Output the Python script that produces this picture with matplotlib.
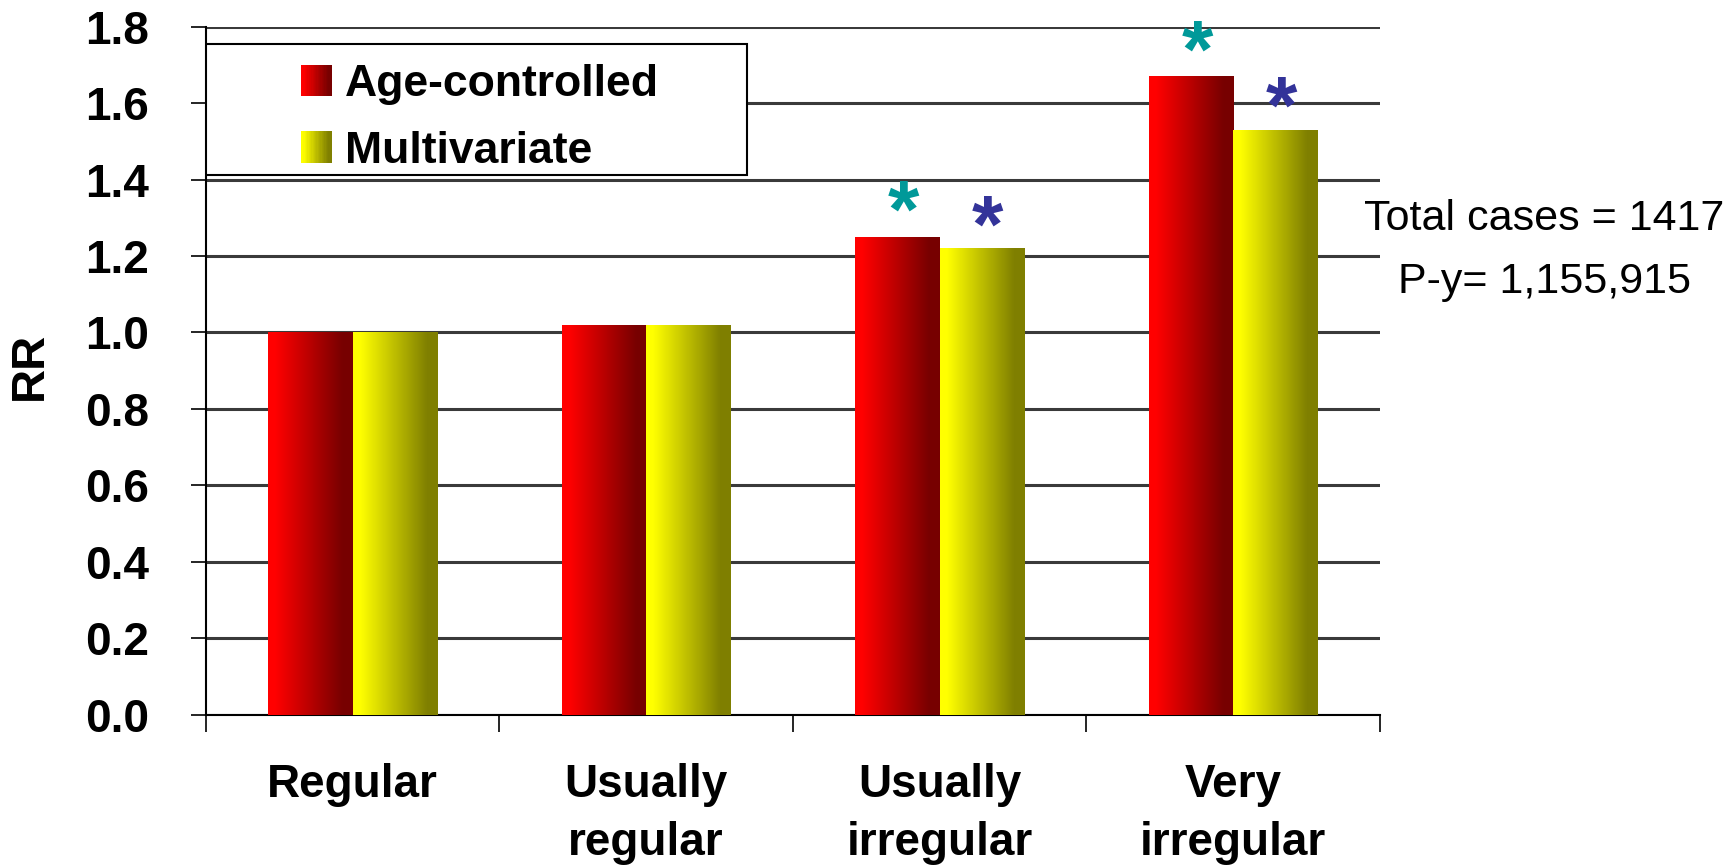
import numpy as np
import matplotlib
matplotlib.use("Agg")
import matplotlib.pyplot as plt
from matplotlib import font_manager
from matplotlib.patches import Rectangle, Patch
from matplotlib.legend_handler import HandlerBase

categories = ["Regular", "Usually\nregular", "Usually\nirregular", "Very\nirregular"]
age_controlled = [1.00, 1.02, 1.25, 1.67]
multivariate = [1.00, 1.02, 1.22, 1.53]
sig_age = [False, False, True, True]
sig_multi = [False, False, True, True]
yticks = [0.0, 0.2, 0.4, 0.6, 0.8, 1.0, 1.2, 1.4, 1.6, 1.8]
note_lines = ["Total cases = 1417", "P-y= 1,155,915"]

RED0, RED1 = (1.0, 0.0, 0.0), (0.47, 0.0, 0.0)
YEL0, YEL1 = (1.0, 1.0, 0.0), (0.50, 0.50, 0.0)

names = {f.name for f in font_manager.fontManager.ttflist}
narrow = "Liberation Sans Narrow" if "Liberation Sans Narrow" in names else "Liberation Sans"
plt.rcParams["font.family"] = ["Liberation Sans", "DejaVu Sans"]


def grad(c0, c1, t):
    f = np.clip((t - 0.08) / 0.8, 0, 1)
    return tuple(a * (1 - f) + b * f for a, b in zip(c0, c1))


def grad_image(c0, c1, n=64):
    t = np.linspace(0, 1, n)
    return np.array([[grad(c0, c1, v) for v in t]])


class GradientHandler(HandlerBase):
    def __init__(self, c0, c1):
        super().__init__()
        self.c0, self.c1 = c0, c1

    def create_artists(self, legend, orig_handle, xdescent, ydescent,
                       width, height, fontsize, trans):
        n = 24
        arts = []
        for i in range(n):
            col = grad(self.c0, self.c1, (i + 0.5) / n)
            arts.append(Rectangle((-xdescent + width * i / n, -ydescent),
                                  width / n * 1.1, height, facecolor=col,
                                  edgecolor="none", transform=trans))
        return arts


fig = plt.figure(figsize=(17.35, 8.67), dpi=100)
ax = fig.add_axes([0.1186, 0.1755, 0.6768, 0.7938])

x = np.arange(len(categories))
w = 0.287
bars_a = ax.bar(x - w / 2, age_controlled, w, color="none", zorder=3)
bars_m = ax.bar(x + w / 2, multivariate, w, color="none", zorder=3)

img_r = grad_image(RED0, RED1)
img_y = grad_image(YEL0, YEL1)
for bars, img in ((bars_a, img_r), (bars_m, img_y)):
    for b in bars:
        x0, h = b.get_x(), b.get_height()
        ax.imshow(img, extent=(x0, x0 + b.get_width(), 0, h), aspect="auto",
                  zorder=3, interpolation="bilinear")

for i in range(len(categories)):
    if sig_age[i]:
        ax.annotate("*", xy=(x[i] - w / 2 + 0.02, age_controlled[i]), xytext=(0, 0),
                    textcoords="offset points", ha="center", va="baseline",
                    fontsize=58, fontweight="bold", color="#009999", zorder=5)
    if sig_multi[i]:
        ax.annotate("*", xy=(x[i] + w / 2 + 0.02, multivariate[i]), xytext=(0, -2),
                    textcoords="offset points", ha="center", va="baseline",
                    fontsize=58, fontweight="bold", color="#333399", zorder=5)

ax.set_xlim(-0.5, len(categories) - 0.5)
ax.set_ylim(0, 1.8)

for y in yticks:
    ax.axhline(y, color="#3a3a3a", lw=2.2, zorder=1)

for s in ("top", "right"):
    ax.spines[s].set_visible(False)
ax.spines["left"].set_linewidth(1.5)
ax.spines["bottom"].set_linewidth(1.5)
ax.spines["left"].set_zorder(4)

ax.set_yticks(yticks)
ax.set_yticklabels([f"{v:.1f}" for v in yticks])
ax.tick_params(axis="y", length=11, width=1.2, pad=30, labelsize=33)
for lab in ax.get_yticklabels():
    lab.set_fontweight("bold")

ax.set_xticks(x)
ax.set_xticklabels(categories, fontsize=33, fontweight="bold", linespacing=1.4)
ax.tick_params(axis="x", length=0, pad=35)
ax.set_xticks(np.arange(-0.5, len(categories)), minor=True)
ax.tick_params(axis="x", which="minor", length=12, width=1.2, direction="out")

ax.set_ylabel("RR", fontsize=34, fontweight="bold")
ax.yaxis.set_label_coords(-0.131, 0.507)

# legend box
ax.add_patch(Rectangle((0.0, 0.784), 0.461, 0.191, transform=ax.transAxes,
                       facecolor="white", edgecolor="black", lw=1.5, zorder=6))
h_r = Patch(label="Age-controlled")
h_y = Patch(label="Multivariate")
leg = ax.legend(handles=[h_r, h_y], loc="upper left", bbox_to_anchor=(0.081, 0.946),
                frameon=False, prop={"weight": "bold", "size": 32},
                handlelength=0.7, handleheight=0.7, handletextpad=0.3,
                labelspacing=0.58, borderpad=0, borderaxespad=0,
                handler_map={h_r: GradientHandler(RED0, RED1),
                             h_y: GradientHandler(YEL0, YEL1)})
leg.set_zorder(7)

fig.text(0.89, 0.747, note_lines[0], ha="center", va="center",
         fontsize=31, family=narrow)
fig.text(0.89, 0.675, note_lines[1], ha="center", va="center",
         fontsize=31, family=narrow)

fig.savefig("out.png", dpi=100)
